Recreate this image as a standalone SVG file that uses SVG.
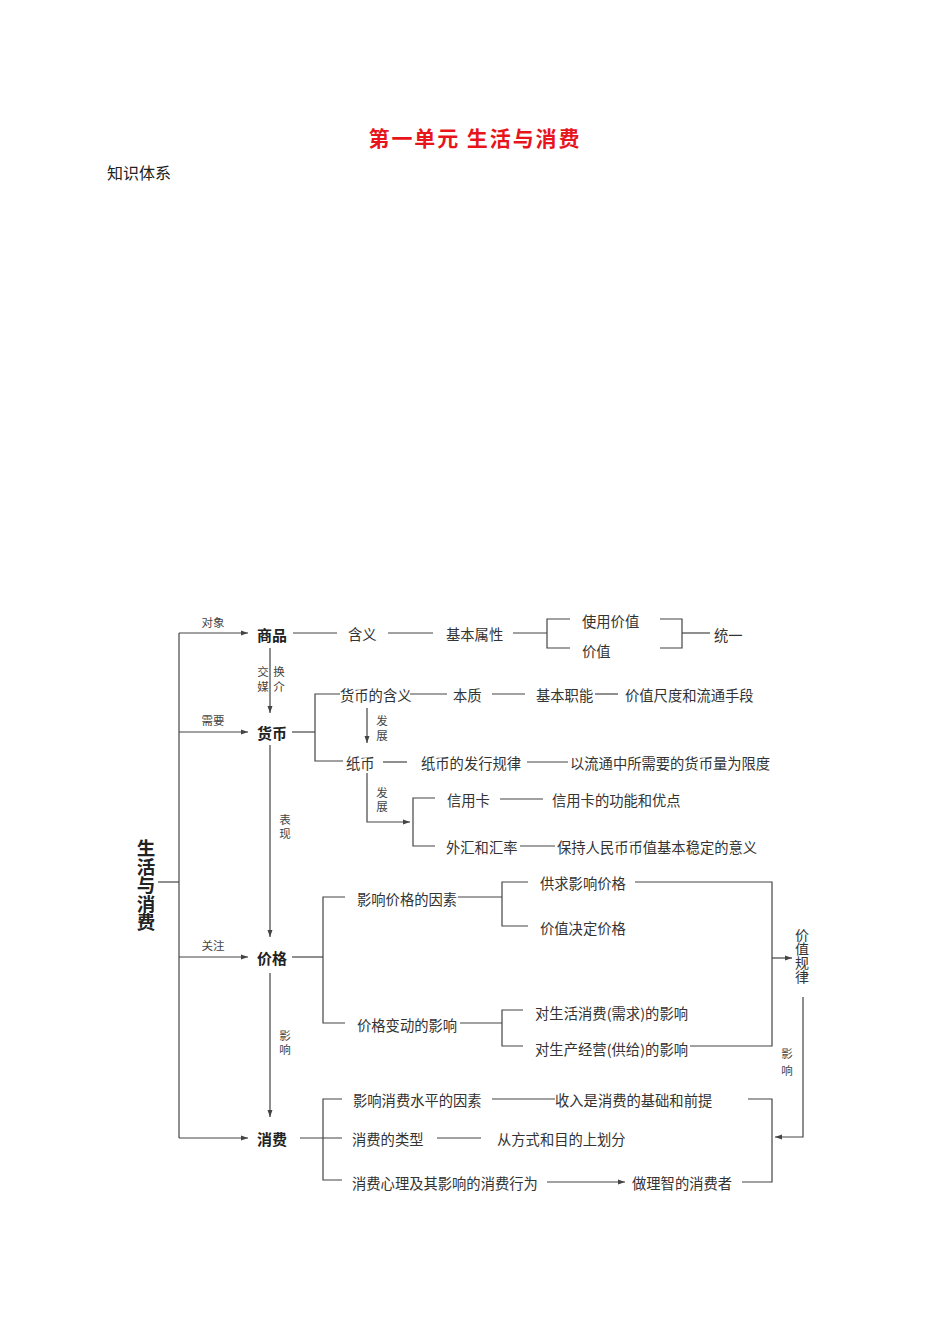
<svg xmlns="http://www.w3.org/2000/svg" width="950" height="1344" viewBox="0 0 950 1344">
<style>
text{font-family:"Noto Sans CJK SC","Noto Sans",sans-serif;fill:#333;dominant-baseline:central}
.title{font-size:21px;font-weight:bold;fill:#e8141b}
.hd{font-size:16px;fill:#222}
.main{font-size:15px;font-weight:bold;fill:#222}
.root{font-size:18.5px;font-weight:bold;fill:#222;text-anchor:middle;writing-mode:vertical-rl}
.t{font-size:14.3px}
.s{font-size:11.5px;fill:#444;text-anchor:middle}
.v{font-size:14px;text-anchor:middle;writing-mode:vertical-rl}
.ln{fill:none;stroke:#444;stroke-width:1.2}
</style>
<defs>
<marker id="ah" markerUnits="userSpaceOnUse" markerWidth="8" markerHeight="6" refX="7" refY="3" orient="auto">
<path d="M0,0.5 L7,3 L0,5.5 Z" fill="#444"/>
</marker>
</defs>
<rect width="950" height="1344" fill="#fff"/>
<text class="title" x="474" y="137" text-anchor="middle" textLength="211">第一单元 生活与消费</text>
<text class="hd" x="107" y="172">知识体系</text>

<g id="connectors">
<path class="ln" d="M179,633 V1138"/>
<path class="ln" d="M158,882 H179"/>
<path class="ln" d="M179,633 H248" marker-end="url(#ah)"/>
<path class="ln" d="M179,732 H248" marker-end="url(#ah)"/>
<path class="ln" d="M179,957 H248" marker-end="url(#ah)"/>
<path class="ln" d="M179,1138 H248" marker-end="url(#ah)"/>
<path class="ln" d="M270,648 V713" marker-end="url(#ah)"/>
<path class="ln" d="M270,745 V937" marker-end="url(#ah)"/>
<path class="ln" d="M270,973 V1117" marker-end="url(#ah)"/>
<path class="ln" d="M293,633 H337"/>
<path class="ln" d="M388,633 H433"/>
<path class="ln" d="M513,633 H547"/>
<path class="ln" d="M570,619 H547 V648 H570"/>
<path class="ln" d="M660,619 H682 V648 H660"/>
<path class="ln" d="M682,633 H710"/>
<path class="ln" d="M292,732 H315"/>
<path class="ln" d="M340,694 H315 V761 H343"/>
<path class="ln" d="M410,694 H447"/>
<path class="ln" d="M492,694 H525"/>
<path class="ln" d="M595,694 H618"/>
<path class="ln" d="M367,708 V743" marker-end="url(#ah)"/>
<path class="ln" d="M383,762 H407"/>
<path class="ln" d="M527,762 H568"/>
<path class="ln" d="M367,773 V822 H410" marker-end="url(#ah)"/>
<path class="ln" d="M435,798 H413 V846 H435"/>
<path class="ln" d="M500,799 H543"/>
<path class="ln" d="M520,846 H555"/>
<path class="ln" d="M292,957 H323"/>
<path class="ln" d="M345,897 H323 V1023 H345"/>
<path class="ln" d="M458,897 H502"/>
<path class="ln" d="M528,882 H502 V926 H528"/>
<path class="ln" d="M635,882 H772 V1046 H690"/>
<path class="ln" d="M772,958 H792" marker-end="url(#ah)"/>
<path class="ln" d="M460,1023 H502"/>
<path class="ln" d="M523,1010 H502 V1046 H523"/>
<path class="ln" d="M803,997 V1137 H775" marker-end="url(#ah)"/>
<path class="ln" d="M300,1138 H342"/>
<path class="ln" d="M342,1099 H323 V1180 H342"/>
<path class="ln" d="M492,1099 H555"/>
<path class="ln" d="M437,1138 H481"/>
<path class="ln" d="M547,1182 H625" marker-end="url(#ah)"/>
<path class="ln" d="M748,1099 H772 V1182 H742"/>
</g>

<g id="edge-labels">
<text class="s" x="213" y="622">对象</text>
<text class="s" x="213" y="720">需要</text>
<text class="s" x="213" y="945">关注</text>
<text class="s" x="263" y="671">交</text>
<text class="s" x="279" y="671">换</text>
<text class="s" x="263" y="686">媒</text>
<text class="s" x="279" y="686">介</text>
<text class="s" x="382" y="720">发</text>
<text class="s" x="382" y="735">展</text>
<text class="s" x="382" y="792">发</text>
<text class="s" x="382" y="806">展</text>
<text class="s" x="285" y="819">表</text>
<text class="s" x="285" y="833">现</text>
<text class="s" x="285" y="1035">影</text>
<text class="s" x="285" y="1049">响</text>
<text class="s" x="787" y="1053">影</text>
<text class="s" x="787" y="1070">响</text>
</g>

<g id="n-root"><text class="root" x="146" y="885">生活与消费</text></g>
<g id="n-shangpin"><text class="main" x="257" y="634">商品</text></g>
<g id="n-huobi"><text class="main" x="257" y="732">货币</text></g>
<g id="n-jiage"><text class="main" x="257" y="957">价格</text></g>
<g id="n-xiaofei"><text class="main" x="257" y="1138">消费</text></g>

<g id="n-hanyi"><text class="t" x="348" y="633">含义</text></g>
<g id="n-jbsx"><text class="t" x="446" y="633">基本属性</text></g>
<g id="n-syjz"><text class="t" x="582" y="620">使用价值</text></g>
<g id="n-jz"><text class="t" x="582" y="650">价值</text></g>
<g id="n-ty"><text class="t" x="714" y="634">统一</text></g>

<g id="n-hbhy"><text class="t" x="340" y="694">货币的含义</text></g>
<g id="n-bz"><text class="t" x="453" y="694">本质</text></g>
<g id="n-jbzn"><text class="t" x="536" y="694">基本职能</text></g>
<g id="n-jzcd"><text class="t" x="625" y="694">价值尺度和流通手段</text></g>

<g id="n-zb"><text class="t" x="346" y="762">纸币</text></g>
<g id="n-zbgl"><text class="t" x="421" y="762">纸币的发行规律</text></g>
<g id="n-xd"><text class="t" x="570" y="762">以流通中所需要的货币量为限度</text></g>

<g id="n-xyk"><text class="t" x="447" y="799">信用卡</text></g>
<g id="n-xykgn"><text class="t" x="552" y="799">信用卡的功能和优点</text></g>
<g id="n-wh"><text class="t" x="446" y="846">外汇和汇率</text></g>
<g id="n-wd"><text class="t" x="557" y="846">保持人民币币值基本稳定的意义</text></g>

<g id="n-yxjgys"><text class="t" x="357" y="898">影响价格的因素</text></g>
<g id="n-gq"><text class="t" x="540" y="882">供求影响价格</text></g>
<g id="n-jzjd"><text class="t" x="540" y="927">价值决定价格</text></g>
<g id="n-jgbd"><text class="t" x="357" y="1024">价格变动的影响</text></g>
<g id="n-shxf"><text class="t" x="535" y="1012" textLength="153">对生活消费(需求)的影响</text></g>
<g id="n-scjy"><text class="t" x="535" y="1048" textLength="153">对生产经营(供给)的影响</text></g>
<g id="n-jzgl"><text class="v" x="802" y="956">价值规律</text></g>

<g id="n-yxxf"><text class="t" x="353" y="1099">影响消费水平的因素</text></g>
<g id="n-sr"><text class="t" x="555" y="1099">收入是消费的基础和前提</text></g>
<g id="n-lx"><text class="t" x="352" y="1138">消费的类型</text></g>
<g id="n-fs"><text class="t" x="497" y="1138">从方式和目的上划分</text></g>
<g id="n-xl"><text class="t" x="352" y="1182">消费心理及其影响的消费行为</text></g>
<g id="n-lz"><text class="t" x="632" y="1182">做理智的消费者</text></g>
</svg>
